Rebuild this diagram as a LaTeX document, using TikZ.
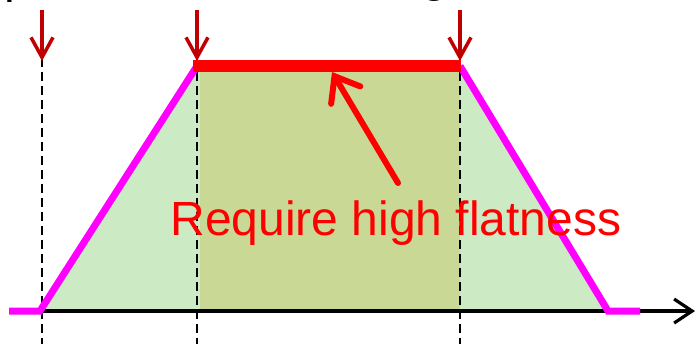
\documentclass[tikz,border=0pt]{standalone}
\usepackage{fontspec}
\setmainfont{Liberation Sans}
\usetikzlibrary{arrows.meta}
\definecolor{flankgreen}{RGB}{204,234,196}
\definecolor{flatgreen}{RGB}{201,217,149}
\definecolor{markred}{RGB}{192,0,0}
\definecolor{edgemagenta}{RGB}{255,0,255}
\begin{document}
\begin{tikzpicture}[x=0.5pt, y=-0.5pt,
  profile/.style={edgemagenta, line width=3.5pt},
  guide/.style={black, line width=1.25pt, dash pattern=on 4.5pt off 2.5pt},
  marker/.style={markred, line width=1.75pt, -{Straight Barb[length=10pt, width=11pt]}},
  lbl/.style={font=\fontsize{24}{28}\selectfont, inner sep=0pt}
]
\useasboundingbox (0,0) rectangle (696,344);
\clip (0,0) rectangle (696,344);
% corners of the profile
\coordinate (b0) at (9,311);
\coordinate (b1) at (40,311);
\coordinate (t1) at (197,66);
\coordinate (t2) at (460,66);
\coordinate (b2) at (608,311);
\coordinate (b3) at (640,311);
\fill[flankgreen] (b1) -- (t1) -- (t2) -- (b2) -- cycle;
\fill[flatgreen] (200,66) rectangle (460,311);
% guides
\foreach \gx/\gname in {42/ga, 197/gb, 460/gc} {
  \coordinate (\gname-top) at (\gx,58);
  \coordinate (\gname-bot) at (\gx,344);
  \draw[guide] (\gname-top) -- (\gname-bot);
  \coordinate (\gname-start) at (\gx,10);
  \draw[marker] (\gname-start) -- (\gx,61);
}
% axis
\coordinate (xend) at (695,311);
\draw[line width=1.6pt, -{Straight Barb[length=9pt, width=12pt]}] (ga-bot |- b1) -- (xend);
% profile
\draw[profile] (b0) -- (b1) -- (t1);
\draw[profile] (t2) -- (b2) -- (b3);
\draw[red, line width=6pt] (193,66) -- (461,66);
% label
\node[lbl, text=red, anchor=base west] (flat) at (170,235) {Require high flatness};
\coordinate (tail) at (398,183);
\coordinate (tip) at (332,72);
\draw[red, line width=3pt, line cap=round,
  -{Straight Barb[length=11pt, width=17pt, line cap=round]}] (tail) -- (tip);
% title, cut off
\node[lbl, anchor=base west] (tp) at (4,-8) {p};
\node[lbl, anchor=base west] (tg) at (421,-9) {g};
\end{tikzpicture}
\end{document}
